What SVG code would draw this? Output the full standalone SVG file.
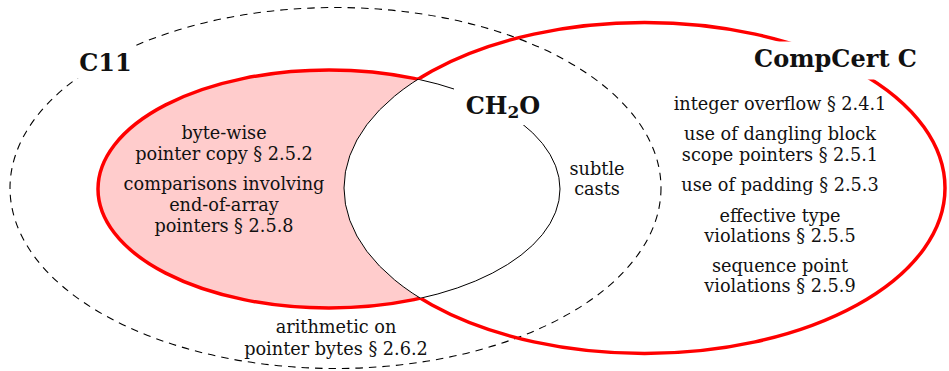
<svg xmlns="http://www.w3.org/2000/svg" width="949" height="371" viewBox="0 0 949 371">
<style>
.t{font-family:"DejaVu Serif","Liberation Serif",serif;font-size:17.7px;fill:#111;text-anchor:middle}
.lbl{font-family:"DejaVu Serif","Liberation Serif",serif;font-size:24px;font-weight:bold;fill:#111;text-anchor:middle}
.red{fill:none;stroke:#ff0000;stroke-width:3.5}
.thin{fill:none;stroke:#000;stroke-width:1}
.bg{fill:#fff;stroke:none}
</style>
<defs>
<clipPath id="inCC"><ellipse cx="644.5" cy="188" rx="300.5" ry="165.5"/></clipPath>
<clipPath id="outCC"><path clip-rule="evenodd" d="M-10 -10H960V380H-10Z M344 188A300.5 165.5 0 1 0 945 188A300.5 165.5 0 1 0 344 188Z"/></clipPath>
<clipPath id="inP"><ellipse cx="329" cy="189" rx="231" ry="119"/></clipPath>
<clipPath id="outP"><path clip-rule="evenodd" d="M-10 -10H960V380H-10Z M98 189A231 119 0 1 0 560 189A231 119 0 1 0 98 189Z"/></clipPath>
</defs>
<g id="c11">
<ellipse cx="335.5" cy="188" rx="325.5" ry="180.5" fill="none" stroke="#000" stroke-width="1.1" stroke-dasharray="7.5 6"/>
</g>
<g id="ch2o">
<ellipse cx="329" cy="189" rx="231" ry="119" fill="#ffcccc"/>
<ellipse cx="329" cy="189" rx="231" ry="119" fill="#fff" clip-path="url(#inCC)"/>
<ellipse cx="329" cy="189" rx="231" ry="119" class="red" clip-path="url(#outCC)"/>
<ellipse cx="329" cy="189" rx="231" ry="119" class="thin" clip-path="url(#inCC)"/>
</g>
<g id="compcert">
<ellipse cx="644.5" cy="188" rx="300.5" ry="165.5" class="red" clip-path="url(#outP)"/>
<ellipse cx="644.5" cy="188" rx="300.5" ry="165.5" class="thin" clip-path="url(#inP)"/>
</g>
<g id="labels">
<rect class="bg" x="75" y="46" width="63" height="32"/>
<text class="lbl" x="105.5" y="70.5">C11</text>
<rect class="bg" x="748" y="41.5" width="176" height="38"/>
<text class="lbl" x="835.5" y="67">CompCert C</text>
<rect class="bg" x="454" y="84" width="96" height="41"/>
<text class="lbl" x="503" y="114">CH<tspan font-size="17" dy="4">2</tspan><tspan dy="-4">O</tspan></text>
</g>
<g id="texts">
<text class="t" x="224" y="139">byte-wise</text>
<text class="t" x="224" y="160">pointer copy § 2.5.2</text>
<text class="t" x="224" y="190">comparisons involving</text>
<text class="t" x="224" y="211">end-of-array</text>
<text class="t" x="224" y="232">pointers § 2.5.8</text>
<text class="t" x="597" y="175">subtle</text>
<text class="t" x="597" y="195">casts</text>
<text class="t" x="336" y="333">arithmetic on</text>
<text class="t" x="336" y="355">pointer bytes § 2.6.2</text>
<text class="t" x="780" y="110">integer overflow § 2.4.1</text>
<text class="t" x="780" y="140">use of dangling block</text>
<text class="t" x="780" y="161">scope pointers § 2.5.1</text>
<text class="t" x="780" y="191">use of padding § 2.5.3</text>
<text class="t" x="780" y="221.5">effective type</text>
<text class="t" x="780" y="241.5">violations § 2.5.5</text>
<text class="t" x="780" y="271.5">sequence point</text>
<text class="t" x="780" y="291.5">violations § 2.5.9</text>
</g>
</svg>
